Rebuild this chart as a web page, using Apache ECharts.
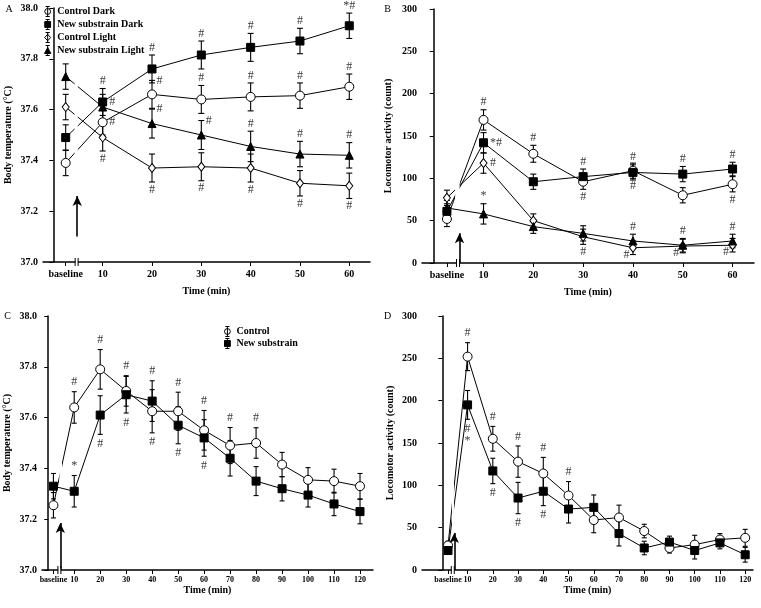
<!DOCTYPE html>
<html><head><meta charset="utf-8">
<script src="https://cdn.jsdelivr.net/npm/echarts@6/dist/echarts.min.js"></script>
<style>html,body{margin:0;padding:0;background:#fff}#c{width:761px;height:608px}</style>
</head><body><div id="c"></div>
<script>
const SERIF = "'Liberation Serif', 'Times New Roman', serif";

// ================= DATA =================
// Panel A – body temperature (°C)
const timesA = ['baseline', 10, 20, 30, 40, 50, 60];
const tempControlDark     = [37.39, 37.55, 37.66, 37.64, 37.65, 37.655, 37.69];
const tempControlDarkSem  = [0.05, 0.05, 0.055, 0.055, 0.055, 0.05, 0.05];
const tempNewDark         = [37.49, 37.63, 37.76, 37.815, 37.845, 37.87, 37.93];
const tempNewDarkSem      = [0.05, 0.053, 0.055, 0.055, 0.055, 0.05, 0.05];
const tempControlLight    = [37.61, 37.49, 37.37, 37.375, 37.37, 37.31, 37.30];
const tempControlLightSem = [0.05, 0.053, 0.055, 0.055, 0.055, 0.05, 0.05];
const tempNewLight        = [37.73, 37.61, 37.545, 37.50, 37.455, 37.425, 37.42];
const tempNewLightSem     = [0.05, 0.05, 0.057, 0.057, 0.06, 0.05, 0.05];

// Panel B – locomotor activity (count)
const timesB = ['baseline', 10, 20, 30, 40, 50, 60];
const actControlDark     = [52, 169, 129, 96, 109, 80, 93];
const actControlDarkSem  = [9, 12, 10, 9, 9, 9, 9];
const actNewDark         = [61, 142, 96, 102, 107, 105, 111];
const actNewDarkSem      = [9, 12, 9, 9, 9, 9, 8];
const actControlLight    = [77, 118, 50, 31, 18, 20, 21];
const actControlLightSem = [9, 12, 8, 9, 8, 8, 8];
const actNewLight        = [65, 58, 43, 35, 26, 21, 26];
const actNewLightSem     = [9, 12, 8, 9, 8, 8, 8];

// Panel C – body temperature (°C)
const timesC = ['baseline', 10, 20, 30, 40, 50, 60, 70, 80, 90, 100, 110, 120];
const tempControl    = [37.255, 37.64, 37.79, 37.705, 37.625, 37.625, 37.55, 37.49, 37.50, 37.415, 37.355, 37.35, 37.33];
const tempControlSem = [0.05, 0.062, 0.078, 0.06, 0.085, 0.075, 0.078, 0.071, 0.06, 0.048, 0.048, 0.047, 0.05];
const tempNew        = [37.33, 37.31, 37.61, 37.69, 37.665, 37.57, 37.52, 37.44, 37.35, 37.32, 37.295, 37.26, 37.23];
const tempNewSem     = [0.05, 0.062, 0.076, 0.072, 0.08, 0.073, 0.072, 0.07, 0.057, 0.048, 0.047, 0.046, 0.048];

// Panel D – locomotor activity (count)
const timesD = ['baseline', 10, 20, 30, 40, 50, 60, 70, 80, 90, 100, 110, 120];
const actControl    = [29, 252, 155, 128, 114, 88, 59, 62, 46, 26, 30, 36, 38];
const actControlSem = [5, 16.5, 14.6, 18.5, 19, 16.5, 15, 14.6, 8, 6, 11, 7, 10];
const actNew        = [23, 195, 117, 85, 93, 72, 74, 43, 26, 33, 23, 32, 18];
const actNewSem     = [4, 17, 15, 18.5, 17, 16.5, 14.6, 14.6, 8, 7, 10, 7, 8.7];

// Axis tick labels
const tempTicks = [37.0, 37.2, 37.4, 37.6, 37.8, 38.0];
const actTicks  = [0, 50, 100, 150, 200, 250, 300];

// Significance marks: [series key, time index, text, placement]
const notesA = [
  ['nd',1,'#','top'],['nd',2,'#','top'],['nd',3,'#','top'],['nd',4,'#','top'],['nd',5,'#','top'],['nd',6,'*#','top'],['nd',1,'#','right'],
  ['cd',1,'#','right'],['cd',2,'#','topright'],['cd',3,'#','top'],['cd',4,'#','top'],['cd',5,'#','top'],['cd',6,'#','top'],
  ['nl',2,'#','topright'],['nl',3,'#','topright'],['nl',4,'#','top'],['nl',5,'#','top'],['nl',6,'#','top'],
  ['cl',1,'#','bottom'],['cl',2,'#','bottom'],['cl',3,'#','bottom'],['cl',4,'#','bottom'],['cl',5,'#','bottom'],['cl',6,'#','bottom']
];
const notesB = [
  ['cd',1,'#','top'],['cd',2,'#','top'],['cd',3,'#','bottom'],['cd',4,'#','bottom'],['cd',6,'#','bottom'],
  ['nd',1,'*#','right'],['nd',3,'#','top'],['nd',4,'#','top'],['nd',5,'#','top'],['nd',6,'#','top'],
  ['cl',1,'#','right'],['cl',3,'#','bottom'],['cl',4,'#','botleft'],['cl',5,'#','botleft'],['cl',6,'#','botleft'],
  ['nl',1,'*','top'],['nl',4,'#','top'],['nl',5,'#','top'],['nl',6,'#','top']
];
const notesC = [
  ['c',1,'#','top'],['c',2,'#','top'],['c',3,'#','top'],['c',5,'#','top'],['c',6,'#','top'],['c',7,'#','top'],['c',8,'#','top'],['c',4,'#','bottom'],
  ['n',1,'*','top'],['n',2,'#','bottom'],['n',3,'#','bottom'],['n',4,'#','top'],['n',5,'#','bottom'],['n',6,'#','bottom']
];
const notesD = [
  ['c',1,'#','top'],['c',2,'#','top'],['c',3,'#','top'],['c',4,'#','top'],['c',5,'#','top'],
  ['n',1,'#\n*','bottom'],['n',2,'#','bottom'],['n',3,'#','bottom'],['n',4,'#','bottom']
];

// ================= STYLE / LAYOUT =================
const SYM = {
  circle:   {symbol: 'circle',   size: 9,      fill: '#fff'},
  square:   {symbol: 'rect',     size: 8,      fill: '#000'},
  diamond:  {symbol: 'diamond',  size: [7, 9], fill: '#fff'},
  triangle: {symbol: 'triangle', size: 8,      fill: '#000'}
};
const BAR = 'M5,0L5,12M2.5,0L7.5,0M2.5,12L7.5,12';
const ICON = {
  circle:   'path://' + BAR + 'M5,2.5A3.5,3.5,0,1,1,5,9.5A3.5,3.5,0,1,1,5,2.5Z',
  square:   'path://' + BAR + 'M1.5,2.5L8.5,2.5L8.5,9.5L1.5,9.5Z',
  diamond:  'path://' + BAR + 'M5,2L8.5,6L5,10L1.5,6Z',
  triangle: 'path://' + BAR + 'M5,2.5L8.8,9.5L1.2,9.5Z'
};

const panels = [
  { letter: 'A', lx: 9, ly: 9, grid: {left: 43, top: 8, width: 327, height: 254},
    xMin: -2.1, xMax: 64.2, basePos: 2.5, breakPos: 4.72, arrowX: 4.84, arrowBase: 37.1, arrowTop: 37.26,
    gap: [4.3, 4.95, 37.35, 37.8], times: timesA, yTicks: tempTicks, yDec: 1,
    yName: 'Body temperature (°C)', yGap: 30, xFont: 10, xMargin: 7, xNameGap: 24, cap: 3, noteDist: 1,
    series: [
      {key: 'cd', name: 'Control Dark', v: tempControlDark, e: tempControlDarkSem, s: 'circle'},
      {key: 'nd', name: 'New substrain Dark', v: tempNewDark, e: tempNewDarkSem, s: 'square'},
      {key: 'cl', name: 'Control Light', v: tempControlLight, e: tempControlLightSem, s: 'diamond'},
      {key: 'nl', name: 'New substrain Light', v: tempNewLight, e: tempNewLightSem, s: 'triangle'}
    ], notes: notesA },
  { letter: 'B', lx: 387.5, ly: 9, grid: {left: 422, top: 9, width: 332, height: 254},
    xMin: -2.35, xMax: 64.3, basePos: 2.65, breakPos: 4.88, arrowX: 5.18, arrowBase: 0, arrowTop: 35,
    gap: [4.3, 5.2, 70, 140], times: timesB, yTicks: actTicks, yDec: 0,
    yName: 'Locomotor activity (count)', yGap: 29, xFont: 10, xMargin: 7, xNameGap: 24, cap: 3, noteDist: 1,
    series: [
      {key: 'cd', name: 'Control Dark', v: actControlDark, e: actControlDarkSem, s: 'circle'},
      {key: 'nd', name: 'New substrain Dark', v: actNewDark, e: actNewDarkSem, s: 'square'},
      {key: 'cl', name: 'Control Light', v: actControlLight, e: actControlLightSem, s: 'diamond'},
      {key: 'nl', name: 'New substrain Light', v: actNewLight, e: actNewLightSem, s: 'triangle'}
    ], notes: notesB },
  { letter: 'C', lx: 7.5, ly: 316, grid: {left: 42, top: 316, width: 331, height: 254},
    xMin: -2.4, xMax: 125, basePos: 2, breakPos: 4.3, arrowX: 4.65, arrowBase: 37.0, arrowTop: 37.185,
    gap: [4.3, 5.3, 37.34, 37.5], times: timesC, yTicks: tempTicks, yDec: 1,
    yName: 'Body temperature (°C)', yGap: 30, xFont: 8, xMargin: 6, xNameGap: 15, cap: 2.5, noteDist: 3,
    series: [
      {key: 'c', name: 'Control', v: tempControl, e: tempControlSem, s: 'circle'},
      {key: 'n', name: 'New substrain', v: tempNew, e: tempNewSem, s: 'square'}
    ], notes: notesC },
  { letter: 'D', lx: 387.5, ly: 316, grid: {left: 422, top: 316, width: 331, height: 254},
    xMin: -8.06, xMax: 123.1, basePos: 2.25, breakPos: 4.14, arrowX: 4.73, arrowBase: 0, arrowTop: 43.6,
    gap: [3.8, 4.6, 45, 160], times: timesD, yTicks: actTicks, yDec: 0,
    yName: 'Locomotor activity (count)', yGap: 27, xFont: 8, xMargin: 6, xNameGap: 15, cap: 2.5, noteDist: 3,
    series: [
      {key: 'c', name: 'Control', v: actControl, e: actControlSem, s: 'circle'},
      {key: 'n', name: 'New substrain', v: actNew, e: actNewSem, s: 'square'}
    ], notes: notesD }
];

const chart = echarts.init(document.getElementById('c'), null, {renderer: 'canvas'});
const grids = [], xAxes = [], yAxes = [], series = [];

function xPos(p, t) { return t === 'baseline' ? p.basePos : t; }

function errRender(cap) {
  return function (params, api) {
    const x = api.value(0);
    const top = api.coord([x, api.value(2)]);
    const bot = api.coord([x, api.value(1)]);
    const st = {stroke: '#000', lineWidth: 1.1};
    return {type: 'group', children: [
      {type: 'line', shape: {x1: top[0], y1: top[1], x2: bot[0], y2: bot[1]}, style: st},
      {type: 'line', shape: {x1: top[0] - cap, y1: top[1], x2: top[0] + cap, y2: top[1]}, style: st},
      {type: 'line', shape: {x1: bot[0] - cap, y1: bot[1], x2: bot[0] + cap, y2: bot[1]}, style: st}
    ]};
  };
}

panels.forEach((p, gi) => {
  grids.push(Object.assign({containLabel: false}, p.grid));
  const xs = p.times.map(t => xPos(p, t));
  const yMin = p.yTicks[0], yMax = p.yTicks[p.yTicks.length - 1];
  p.yMin = yMin;
  xAxes.push({
    gridIndex: gi, type: 'value', min: p.xMin, max: p.xMax,
    name: 'Time (min)', nameLocation: 'middle', nameGap: p.xNameGap,
    nameTextStyle: {fontFamily: SERIF, fontWeight: 'bold', fontSize: 10, color: '#000'},
    axisLine: {onZero: false, lineStyle: {color: '#000', width: 1.5}},
    axisTick: {show: true, customValues: xs, length: 4, lineStyle: {color: '#000', width: 1}},
    axisLabel: {customValues: xs, margin: p.xMargin, fontFamily: SERIF, fontWeight: 'bold', fontSize: p.xFont, color: '#000',
      formatter: v => Math.abs(v - p.basePos) < 1e-6 ? 'baseline' : String(v)},
    splitLine: {show: false}
  });
  yAxes.push({
    gridIndex: gi, type: 'value', min: yMin, max: yMax, interval: p.yTicks[1] - p.yTicks[0],
    name: p.yName, nameLocation: 'middle', nameGap: p.yGap,
    nameTextStyle: {fontFamily: SERIF, fontWeight: 'bold', fontSize: 10, color: '#000'},
    axisLine: {show: true, lineStyle: {color: '#000', width: 1.5}},
    axisTick: {show: true, length: 4, lineStyle: {color: '#000', width: 1}},
    axisLabel: {margin: 5, fontFamily: SERIF, fontWeight: 'bold', fontSize: 10, color: '#000',
      formatter: v => Number(v).toFixed(p.yDec)},
    splitLine: {show: false}
  });

  const byKey = {};
  p.series.forEach(s => {
    byKey[s.key] = s;
    const sty = SYM[s.s];
    series.push({
      type: 'line', name: s.name, xAxisIndex: gi, yAxisIndex: gi, z: 3,
      data: s.v.map((v, i) => [xs[i], v]),
      symbol: sty.symbol, symbolSize: sty.size, showAllSymbol: true,
      itemStyle: {color: sty.fill, borderColor: '#000', borderWidth: 1},
      lineStyle: {color: '#000', width: 1},
      emphasis: {disabled: true}, animation: false
    });
    series.push({
      type: 'custom', name: 'err-' + p.letter + '-' + s.key, xAxisIndex: gi, yAxisIndex: gi, z: 2,
      data: s.v.map((v, i) => [xs[i], v - s.e[i], v + s.e[i]]),
      encode: {x: 0, y: [1, 2]}, renderItem: errRender(p.cap), silent: true, animation: false
    });
  });

  // significance marks anchored to the data points / error-bar ends
  const noteData = p.notes.map(([k, i, txt, at]) => {
    const s = byKey[k];
    const x = xs[i], v = s.v[i], e = s.e[i];
    let y = v, pos = 'top', dist = p.noteDist;
    if (at === 'top') { y = v + e; pos = 'top'; }
    else if (at === 'bottom') { y = v - e; pos = 'bottom'; }
    else if (at === 'right') { y = v; pos = 'right'; dist = 6; }
    else if (at === 'topright') { y = v + e; pos = 'right'; dist = 4; }
    else if (at === 'botleft') { y = v - e; pos = 'left'; dist = 3; }
    return {value: [x, y], label: {show: true, position: pos, distance: dist, formatter: txt}};
  });
  series.push({
    type: 'scatter', name: 'notes-' + p.letter, xAxisIndex: gi, yAxisIndex: gi, z: 6,
    symbol: 'circle', symbolSize: 1, itemStyle: {color: 'rgba(0,0,0,0)'}, silent: true, animation: false,
    label: {show: true, fontFamily: SERIF, fontSize: 12, color: '#000', lineHeight: 12},
    labelLayout: {hideOverlap: false},
    data: noteData
  });

  // break gap in the connecting lines + injection arrow
  series.push({
    type: 'line', name: 'helper-' + p.letter, xAxisIndex: gi, yAxisIndex: gi, data: [], silent: true, animation: false,
    markArea: {silent: true, z: 10, itemStyle: {color: '#fff', opacity: 1, borderWidth: 0},
      data: [[{coord: [p.gap[0], p.gap[2]]}, {coord: [p.gap[1], p.gap[3]]}]]},
    markLine: {silent: true, z: 11, symbol: ['none', 'arrow'], symbolSize: [7, 10], label: {show: false},
      lineStyle: {color: '#000', width: 1.6, type: 'solid'},
      data: [[{coord: [p.arrowX, p.arrowBase]}, {coord: [p.arrowX, p.arrowTop]}]]}
  });
});

const legendText = {fontFamily: SERIF, fontWeight: 'bold', fontSize: 10, color: '#000'};
function legItem(name, s) {
  return {name: name, icon: ICON[s], itemStyle: {color: SYM[s].fill, borderColor: '#000', borderWidth: 1}};
}

chart.setOption({
  backgroundColor: '#fff',
  animation: false,
  grid: grids, xAxis: xAxes, yAxis: yAxes, series: series,
  legend: [
    {left: 44, top: 6, orient: 'vertical', itemGap: 2, itemWidth: 9, itemHeight: 10, selectedMode: false,
     textStyle: legendText, padding: 0,
     data: [legItem('Control Dark', 'circle'), legItem('New substrain Dark', 'square'),
            legItem('Control Light', 'diamond'), legItem('New substrain Light', 'triangle')]},
    {left: 224, top: 326, orient: 'vertical', itemGap: 1, itemWidth: 8, itemHeight: 10, selectedMode: false,
     textStyle: legendText, padding: 0,
     data: [legItem('Control', 'circle'), legItem('New substrain', 'square')]}
  ]
});

// axis break marks and panel letters
const g = [];
panels.forEach((p, gi) => {
  const pt = chart.convertToPixel({xAxisIndex: gi, yAxisIndex: gi}, [p.breakPos, p.yMin]);
  const bx = pt[0], by = pt[1];
  g.push({type: 'rect', shape: {x: bx - 1.2, y: by - 2, width: 2.4, height: 4}, style: {fill: '#fff'}, z: 100});
  g.push({type: 'line', shape: {x1: bx - 1.5, y1: by - 4, x2: bx - 1.5, y2: by + 4}, style: {stroke: '#000', lineWidth: 1}, z: 101});
  g.push({type: 'line', shape: {x1: bx + 1.5, y1: by - 4, x2: bx + 1.5, y2: by + 4}, style: {stroke: '#000', lineWidth: 1}, z: 101});
  g.push({type: 'text', x: p.lx, y: p.ly, z: 101,
    style: {text: p.letter, font: '10px ' + SERIF, fill: '#000', align: 'center', verticalAlign: 'middle'}});
});
chart.setOption({graphic: g});
</script></body></html>
